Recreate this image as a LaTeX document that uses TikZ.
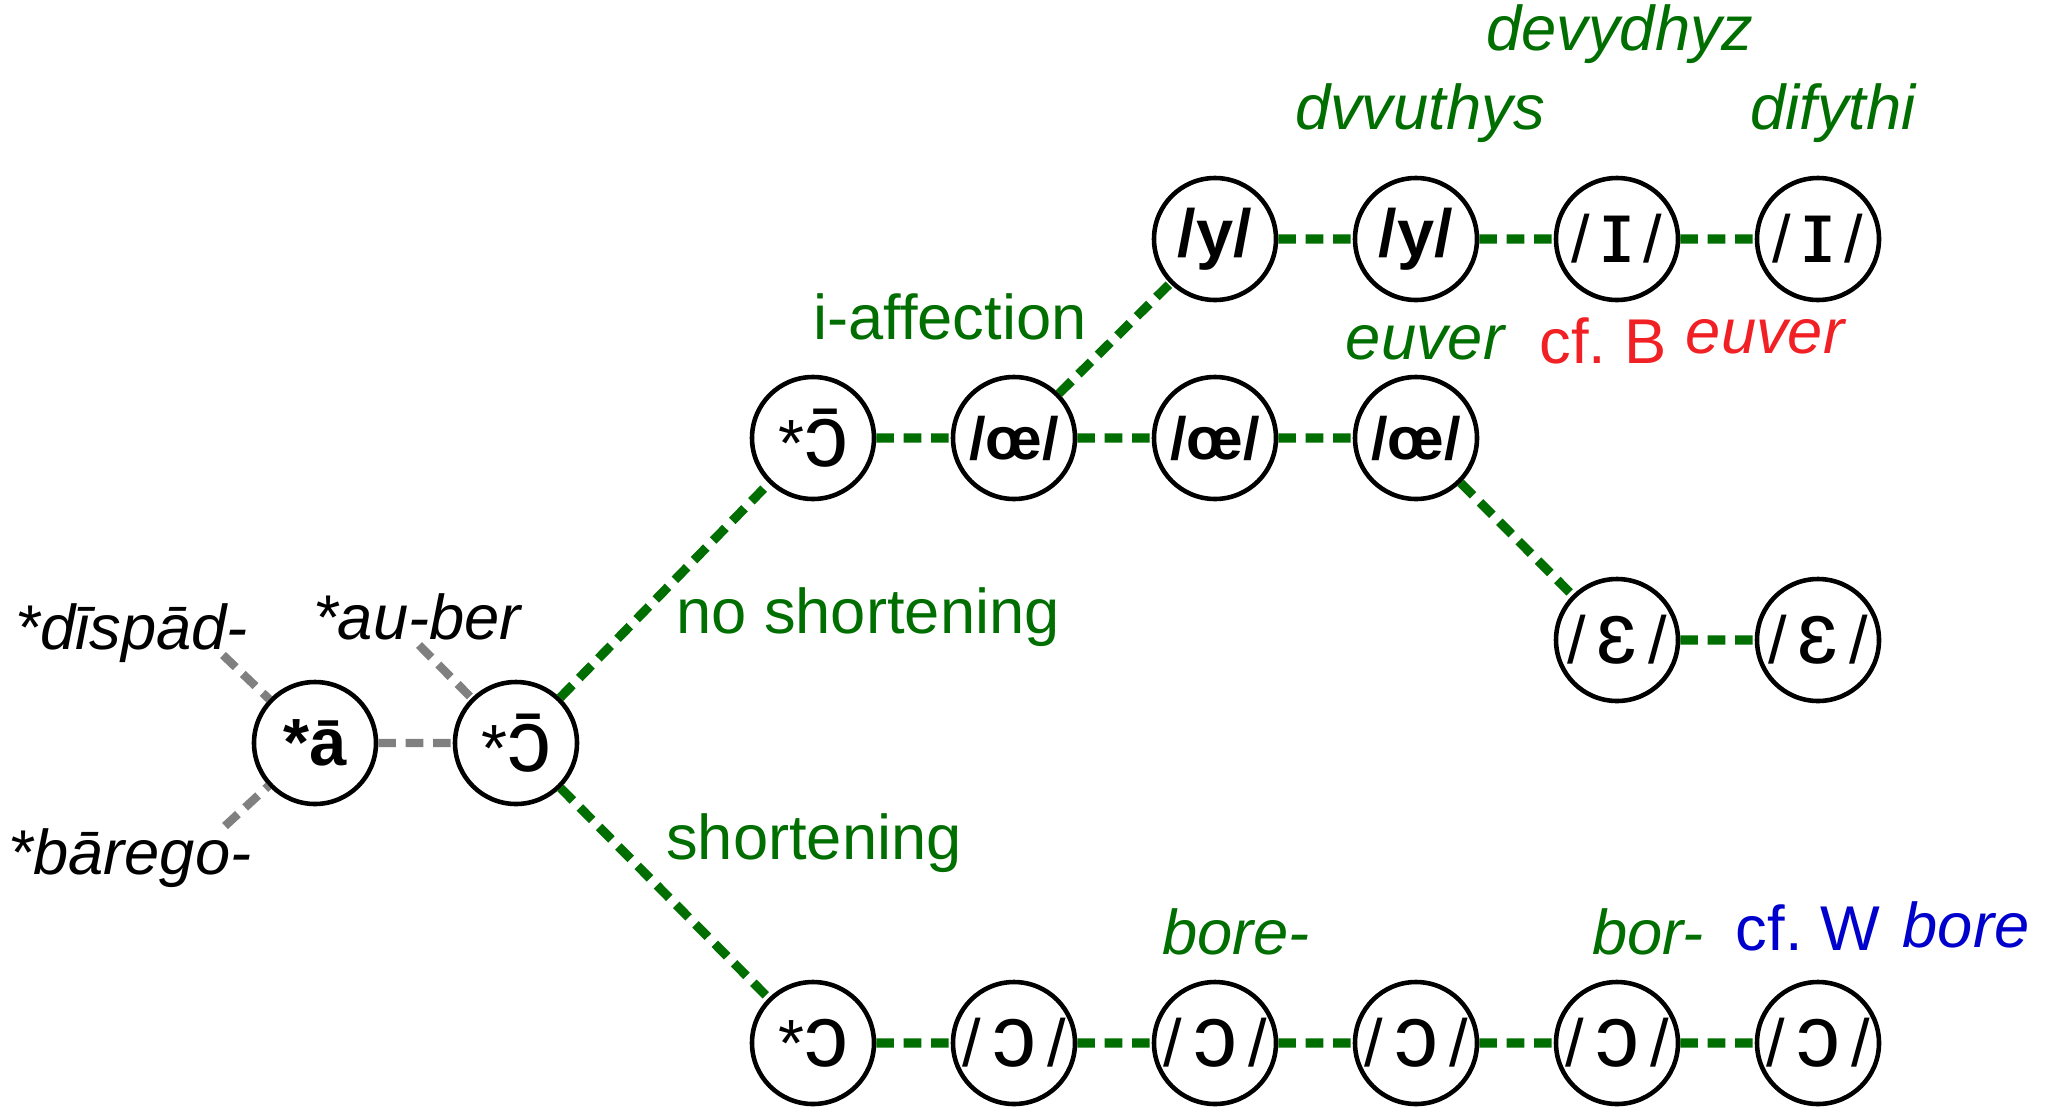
\documentclass[tikz,border=0pt]{standalone}
\usepackage{fontspec}
\setmainfont{Liberation Sans}
\usepackage{tikz}

\definecolor{lgreen}{RGB}{0,110,0}
\definecolor{lred}{RGB}{240,32,36}
\definecolor{lblue}{RGB}{0,0,205}
\definecolor{lgray}{RGB}{128,128,128}

% bigger glyph for the IPA vowels inside the circles
\newcommand{\vow}[1]{{\fontsize{25}{25}\selectfont #1}}

\begin{document}
\begin{tikzpicture}[
  ph/.style={draw, circle, line width=1.3pt, minimum size=1.22cm, inner sep=0pt,
    font=\fontsize{19}{22}\selectfont},
  gline/.style={draw=lgreen, line width=2.6pt, dash pattern=on 5pt off 2.8pt},
  grline/.style={draw=lgray, line width=2.4pt, dash pattern=on 5pt off 2.8pt},
  form/.style={font=\fontsize{18}{21}\selectfont\itshape},
  note/.style={font=\fontsize{18}{21}\selectfont},
]
\useasboundingbox (0,0) rectangle (20.55,11.07);

% starting vowels
\draw (3.15,3.64) node[ph] (a) {\textbf{*ā}} ;
\draw (5.16,3.64) node[ph] (oo) {*\vow{ɔ̄}} ;

% long branch
\draw (8.13,6.69) node[ph] (ooup) {*\vow{ɔ̄}} ;
\draw (10.14,6.69) node[ph, font=\fontsize{17}{20}\selectfont] (oea) {\textbf{/œ/}} ;
\draw (12.15,6.69) node[ph, font=\fontsize{17}{20}\selectfont] (oeb) {\textbf{/œ/}} ;
\draw (14.16,6.69) node[ph, font=\fontsize{17}{20}\selectfont] (oec) {\textbf{/œ/}} ;

\draw (12.15,8.68) node[ph] (ya) {\textbf{/y/}} ;
\draw (14.16,8.68) node[ph] (yb) {\textbf{/y/}} ;
\draw (16.17,8.68) node[ph] (ia) {/\,\vow{ɪ}\,/} ;
\draw (18.18,8.68) node[ph] (ib) {/\,\vow{ɪ}\,/} ;

\draw (16.17,4.67) node[ph] (ea) {/\,\vow{ɛ}\,/} ;
\draw (18.18,4.67) node[ph] (eb) {/\,\vow{ɛ}\,/} ;

% short branch
\draw (8.13,0.64) node[ph] (osh) {*\vow{ɔ}} ;
\draw (10.14,0.64) node[ph] (oa) {/\,\vow{ɔ}\,/} ;
\draw (12.15,0.64) node[ph] (ob) {/\,\vow{ɔ}\,/} ;
\draw (14.16,0.64) node[ph] (oc) {/\,\vow{ɔ}\,/} ;
\draw (16.17,0.64) node[ph] (od) {/\,\vow{ɔ}\,/} ;
\draw (18.18,0.64) node[ph] (oe) {/\,\vow{ɔ}\,/} ;

% source forms
\draw (1.32,4.74) node[form] (dispad) {*dīspād-} ;
\draw (4.17,4.90) node[form] (auber) {*au-ber} ;
\draw (1.30,2.49) node[form] (barego) {*bārego-} ;
\coordinate (dispadend) at (2.23,4.52) ;
\coordinate (auberend) at (4.19,4.62) ;
\coordinate (baregoend) at (2.25,2.81) ;

% branch labels
\draw (9.50,7.90) node[note, text=lgreen] (iaff) {i-affection} ;
\draw (8.68,4.90) node[note, text=lgreen] (noshort) {no shortening} ;
\draw (8.14,2.64) node[note, text=lgreen] (short) {shortening} ;

% attested forms
\draw (16.20,10.73) node[form, text=lgreen] (devydhyz) {devydhyz} ;
\draw (14.20,9.94) node[form, text=lgreen] (dvvuthys) {dvvuthys} ;
\draw (18.33,9.94) node[form, text=lgreen] (difythi) {difythi} ;
\draw (14.25,7.64) node[form, text=lgreen] (euver) {euver} ;
\draw (16.03,7.66) node[note, text=lred] (cfb) {cf.\ B} ;
\draw (17.65,7.70) node[form, text=lred] (beuver) {euver} ;
\draw (12.36,1.75) node[form, text=lgreen] (borea) {bore-} ;
\draw (16.48,1.75) node[form, text=lgreen] (borb) {bor-} ;
\draw (18.08,1.79) node[note, text=lblue] (cfw) {cf.\ W} ;
\draw (19.66,1.82) node[form, text=lblue] (wbore) {bore} ;

\draw[grline]
     (dispadend) to (a)
     (baregoend) to (a)
     (auberend) to (oo)
     (a) to (oo) ;

\draw[gline]
     (oo) to (ooup)
     (oo) to (osh)

     (ooup) to (oea)
     (oea) to (oeb)
     (oeb) to (oec)

     (oea) to (ya)
     (ya) to (yb)
     (yb) to (ia)
     (ia) to (ib)

     (oec) to (ea)
     (ea) to (eb)

     (osh) to (oa)
     (oa) to (ob)
     (ob) to (oc)
     (oc) to (od)
     (od) to (oe) ;
\end{tikzpicture}
\end{document}
